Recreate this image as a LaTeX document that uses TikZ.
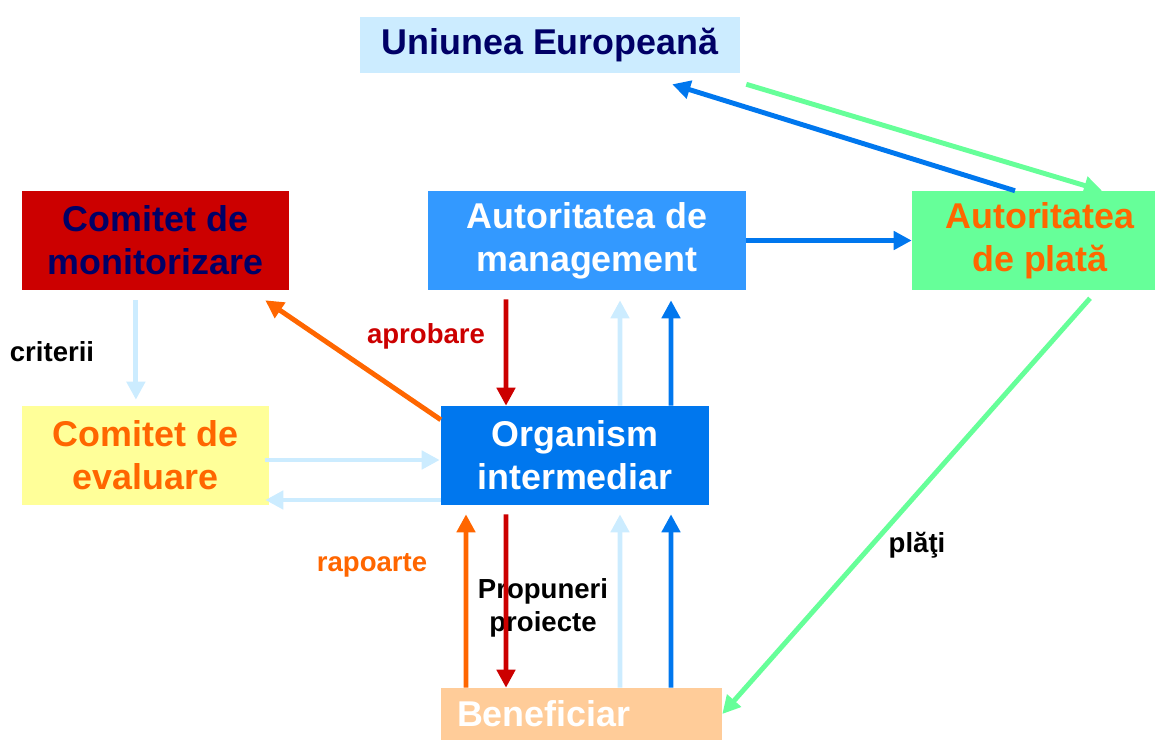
\documentclass[tikz,border=0pt]{standalone}
\usepackage{fontspec}
\setmainfont{Liberation Sans}
\usetikzlibrary{arrows.meta,calc}

\definecolor{ueFill}{HTML}{CCECFF}
\definecolor{bleumarin}{HTML}{000066}
\definecolor{rosu}{HTML}{CC0000}
\definecolor{amFill}{HTML}{3399FF}
\definecolor{albastru}{HTML}{0077EE}
\definecolor{verde}{HTML}{66FF99}
\definecolor{portocaliu}{HTML}{FF6600}
\definecolor{galben}{HTML}{FFFF99}
\definecolor{piersica}{HTML}{FFCC99}

\begin{document}
\begin{tikzpicture}[>={Triangle[length=0.45cm,width=0.45cm]},
    cutie/.style={fill=#1, minimum height=2.475cm, inner sep=0pt, align=center,
                  font=\fontsize{25.5}{30.6}\selectfont\bfseries},
    sageata/.style={draw=#1, line width=3.5pt, ->},
    eticheta/.style={font=\fontsize{19.6}{23.4}\selectfont\bfseries, align=center}]

    \useasboundingbox (0,0) rectangle (28.875,-18.5);

    % Cutii
    \node[cutie=ueFill, minimum width=9.5cm, minimum height=1.4cm, text=bleumarin] (ue) at (13.75,-1.125) {Uniunea Europeană};
    \node[cutie=rosu, minimum width=6.675cm, text=bleumarin] (cm) at (3.8875,-6.0125) {Comitet de\\monitorizare};
    \node[cutie=amFill, minimum width=7.95cm, text=white] (am) at (14.675,-6.0125) {Autoritatea de\\management};
    \node[cutie=verde, minimum width=6.4cm, text=portocaliu] (ap) at (26.0,-6.0125) {Autoritatea\\de plată};
    \node[cutie=galben, minimum width=6.175cm, text=portocaliu] (ce) at (3.6375,-11.3875) {Comitet de\\evaluare};
    \node[cutie=albastru, minimum width=6.7cm, text=white] (oi) at (14.375,-11.3875) {Organism\\intermediar};
    \node[cutie=piersica, minimum height=1.3cm, text width=6.225cm, inner xsep=0.4cm, align=left, text=white] (ben) at (14.5375,-17.85) {Beneficiar};

    % Etichete
    \node[eticheta] (criterii) at (1.3,-8.8) {criterii};
    \node[eticheta, text=rosu] (aprobare) at (10.65,-8.4) {aprobare};
    \node[eticheta, text=portocaliu] (rapoarte) at (9.3,-14.125) {rapoarte};
    \node[eticheta] (propuneri) at (13.575,-15.2) {Propuneri\\proiecte};
    \node[eticheta] (plati) at (22.925,-13.625) {plăţi};

    % UE <-> Autoritatea de plata
    \draw[sageata=albastru] ($(ap.north)+(-0.625,0)$) -- ($(ue.south east)+(-1.7,-0.275)$);
    \draw[sageata=verde] ($(ue.south east)+(0.15,-0.275)$) -- ($(ap.north)+(1.55,0)$);
    \draw[sageata=albastru] (am.east) -- (ap.west);

    % Comitet de monitorizare -> Comitet de evaluare
    \draw[sageata=ueFill] ($(cm.south)+(-0.49,-0.25)$) -- ($(ce.north)+(-0.24,0.15)$);
    \draw[sageata=portocaliu] ($(oi.north west)+(0,-0.35)$) -- ($(cm.south east)+(-0.6,-0.25)$);

    % Autoritatea de management <-> Organism intermediar
    \draw[sageata=rosu] ($(am.south)+(-2.025,-0.225)$) -- ($(oi.north)+(-1.725,0)$);
    \draw[sageata=ueFill] ($(oi.north)+(1.125,0)$) -- ($(am.south)+(0.825,-0.25)$);
    \draw[sageata=albastru] ($(oi.north)+(2.4,0)$) -- ($(am.south)+(2.1,-0.25)$);

    % Comitet de evaluare <-> Organism intermediar
    \draw[sageata=ueFill] ($(ce.east)+(-0.1,-0.1125)$) -- ($(oi.west)+(-0.025,-0.1125)$);
    \draw[sageata=ueFill] ($(oi.west)+(0,-1.1125)$) -- ($(ce.east)+(-0.1,-1.1125)$);

    % Organism intermediar <-> Beneficiar
    \draw[sageata=portocaliu] ($(ben.north)+(-2.8875,0)$) -- ($(oi.south)+(-2.725,-0.225)$);
    \draw[sageata=rosu] ($(oi.south)+(-1.725,-0.225)$) -- ($(ben.north)+(-1.8875,0)$);
    \draw[sageata=ueFill] ($(ben.north)+(0.9625,0)$) -- ($(oi.south)+(1.125,-0.225)$);
    \draw[sageata=albastru] ($(ben.north)+(2.2375,0)$) -- ($(oi.south)+(2.4,-0.225)$);

    % Plati
    \draw[sageata=verde] ($(ap.south)+(1.25,-0.2)$) -- (ben.east);

\end{tikzpicture}
\end{document}
